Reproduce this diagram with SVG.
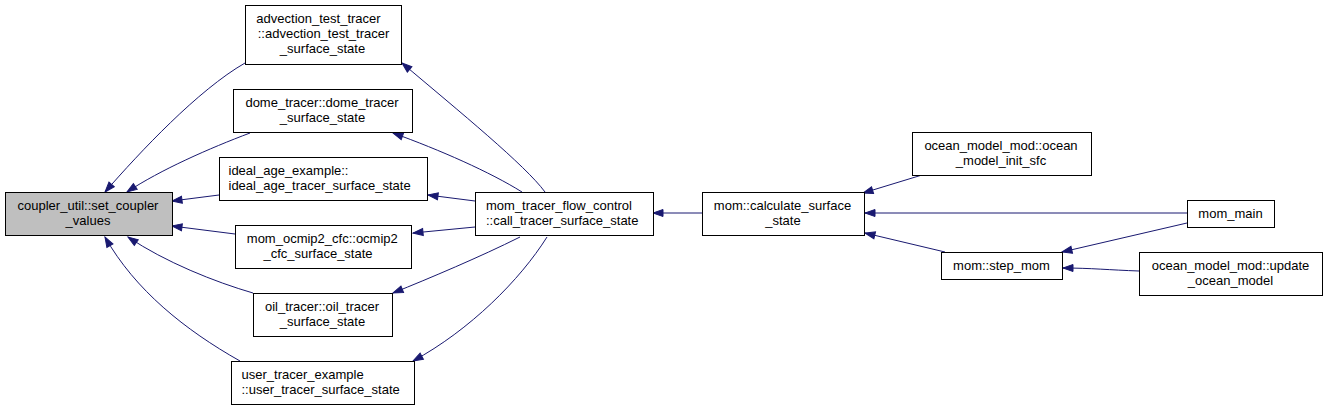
<svg xmlns="http://www.w3.org/2000/svg" width="1328" height="409" viewBox="0 0 1328 409">
<style>
  .node rect { fill: #ffffff; stroke: #000000; stroke-width: 1; }
  .node.hl rect { fill: #bfbfbf; }
  .node text { font-family: "Liberation Sans", Arial, Helvetica, sans-serif; font-size: 13px; fill: #000000; text-anchor: middle; }
  .node text.l { text-anchor: start; }
  .edges path { fill: none; stroke: #191970; stroke-width: 1; marker-end: url(#arr); }
</style>
<defs>
  <marker id="arr" markerWidth="12" markerHeight="9" refX="10" refY="3.5" orient="auto" markerUnits="userSpaceOnUse" overflow="visible">
    <path d="M0,0 L10,3.5 L0,7 Z" fill="#191970" stroke="#191970" stroke-width="1"/>
  </marker>
</defs>
<rect x="0" y="0" width="1328" height="409" fill="#ffffff"/>
<g class="edges" id="edges">
  <path id="e_adv_cu" d="M245,63 C198,90 140,152 105,192"/>
  <path id="e_dome_cu" d="M250,133 C210,148 160,170 127,192"/>
  <path id="e_ideal_cu" d="M219,195 L172,201"/>
  <path id="e_ocmip_cu" d="M235,234 L172,226"/>
  <path id="e_oil_cu" d="M253,293 C215,282 165,262 128,237"/>
  <path id="e_user_cu" d="M240,361 C185,330 135,290 105,237"/>
  <path id="e_flow_adv" d="M545,192 C525,165 460,112 402,63"/>
  <path id="e_flow_dome" d="M522,192 C490,172 440,150 393,133"/>
  <path id="e_flow_ideal" d="M475,201 L428,195"/>
  <path id="e_flow_ocmip" d="M475,227 L413,233"/>
  <path id="e_flow_oil" d="M520,237 C480,257 430,278 393,293"/>
  <path id="e_flow_user" d="M547,237 C520,280 470,330 413,361"/>
  <path id="e_calc_flow" d="M702,213 L653,213"/>
  <path id="e_init_calc" d="M922,175 L863,193"/>
  <path id="e_main_calc" d="M1187,213 L865,213"/>
  <path id="e_step_calc" d="M945,252 L865,233"/>
  <path id="e_main_step" d="M1187,223 L1062,252"/>
  <path id="e_upd_step" d="M1139,271 C1110,270 1090,268 1063,268"/>
</g>
<g id="node_coupler" class="node hl">
  <rect x="5.5" y="192.5" width="167" height="43"/>
  <text x="88" y="209.5">coupler_util::set_coupler</text>
  <text x="88" y="224.5">_values</text>
</g>
<g id="node_advection" class="node">
  <rect x="245.5" y="5.5" width="156" height="59"/>
  <text x="318.5" y="22.5">advection_test_tracer</text>
  <text x="323.5" y="37.5">::advection_test_tracer</text>
  <text x="322.5" y="52.5">_surface_state</text>
</g>
<g id="node_dome" class="node">
  <rect x="233.5" y="89.5" width="179" height="43"/>
  <text x="322" y="106.5">dome_tracer::dome_tracer</text>
  <text x="322.5" y="121.5">_surface_state</text>
</g>
<g id="node_ideal" class="node">
  <rect x="219.5" y="157.5" width="208" height="43"/>
  <text class="l" x="228.5" y="174.5">ideal_age_example::</text>
  <text class="l" x="228.5" y="189.5">ideal_age_tracer_surface_state</text>
</g>
<g id="node_ocmip" class="node">
  <rect x="235.5" y="225.5" width="176" height="43"/>
  <text x="322.3" y="242.5">mom_ocmip2_cfc::ocmip2</text>
  <text x="318" y="257.5">_cfc_surface_state</text>
</g>
<g id="node_oil" class="node">
  <rect x="253.5" y="293.5" width="139" height="43"/>
  <text x="322" y="310.5">oil_tracer::oil_tracer</text>
  <text x="322.5" y="325.5">_surface_state</text>
</g>
<g id="node_user" class="node">
  <rect x="231.5" y="361.5" width="183" height="43"/>
  <text class="l" x="241.5" y="378.5">user_tracer_example</text>
  <text class="l" x="241.5" y="393.5">::user_tracer_surface_state</text>
</g>
<g id="node_flow" class="node">
  <rect x="475.5" y="192.5" width="178" height="43"/>
  <text class="l" x="486" y="209.5">mom_tracer_flow_control</text>
  <text class="l" x="486" y="224.5">::call_tracer_surface_state</text>
</g>
<g id="node_calc" class="node">
  <rect x="702.5" y="192.5" width="162" height="43"/>
  <text x="782.5" y="209.5">mom::calculate_surface</text>
  <text x="783" y="224.5">_state</text>
</g>
<g id="node_init" class="node">
  <rect x="912.5" y="132.5" width="179" height="43"/>
  <text x="1001" y="149.5">ocean_model_mod::ocean</text>
  <text x="1001" y="164.5">_model_init_sfc</text>
</g>
<g id="node_main" class="node">
  <rect x="1187.5" y="200.5" width="87" height="27"/>
  <text x="1230.5" y="217.5">mom_main</text>
</g>
<g id="node_step" class="node">
  <rect x="941.5" y="252.5" width="121" height="27"/>
  <text x="1001.5" y="269.5">mom::step_mom</text>
</g>
<g id="node_update" class="node">
  <rect x="1139.5" y="252.5" width="183" height="43"/>
  <text x="1230.5" y="269.5">ocean_model_mod::update</text>
  <text x="1230.5" y="284.5">_ocean_model</text>
</g>
</svg>
